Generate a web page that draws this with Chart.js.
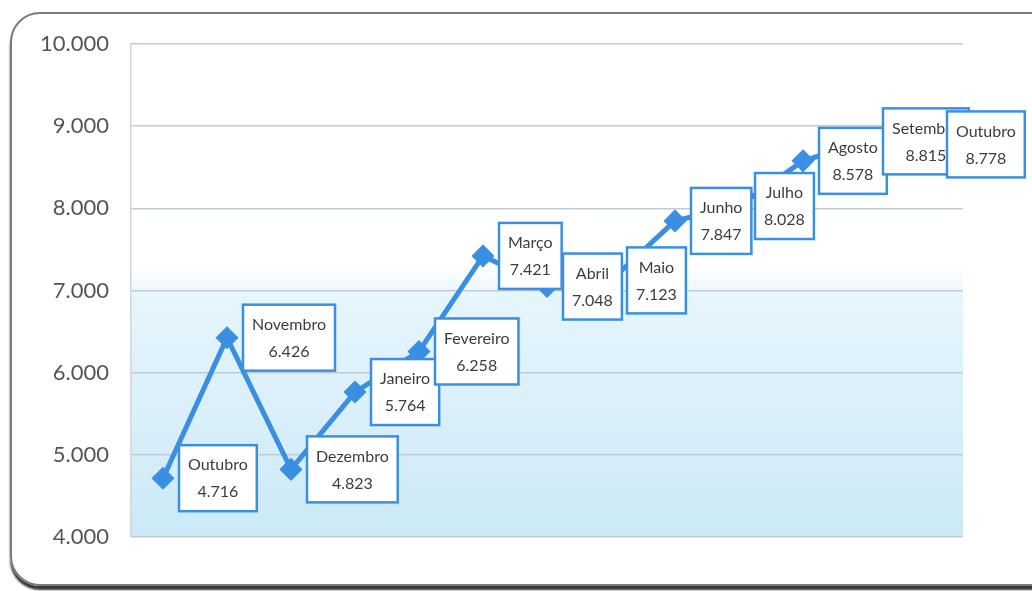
<!DOCTYPE html>
<html>
<head>
<meta charset="utf-8">
<script src="https://cdn.jsdelivr.net/npm/chart.js@4/dist/chart.umd.min.js"></script>
<style>
  html, body { margin: 0; padding: 0; background: #fff; overflow: hidden; }
  #wrap { position: relative; width: 1032px; height: 591px; }
  #frame {
    position: absolute; left: 10px; top: 12px; width: 1060px; height: 570px;
    border: 2px solid #7a7a7a; border-radius: 30px;
    box-shadow: 0 4px 2px #3a3a3a;
  }
  canvas { position: absolute; left: 0; top: 0; }
</style>
</head>
<body>
<div id="wrap">
  <div id="frame"></div>
  <canvas id="chart" width="1032" height="591"></canvas>
</div>
<script>
// meses (out/2011 .. out/2012)
const months = ["Outubro", "Novembro", "Dezembro", "Janeiro", "Fevereiro", "Março", "Abril",
                "Maio", "Junho", "Julho", "Agosto", "Setembro", "Outubro"];
const values = [4716, 6426, 4823, 5764, 6258, 7421, 7048, 7123, 7847, 8028, 8578, 8815, 8778];
const yMin = 4000;
const yMax = 10000;
const yStep = 1000;

const blue = "#3b8fe2";

function fmt(n) {
  return String(n).replace(/\B(?=(\d{3})+(?!\d))/g, ".");
}

// light blue fill in the lower part of the plot, fading out at the top
const bgPlugin = {
  id: "bgFill",
  beforeDraw(chart) {
    const { ctx, chartArea: a, scales } = chart;
    const yTop = scales.y.getPixelForValue(7300);
    const g = ctx.createLinearGradient(0, yTop, 0, a.bottom);
    g.addColorStop(0, "rgba(226,244,252,0)");
    g.addColorStop(0.12, "rgba(226,244,252,0.9)");
    g.addColorStop(0.5, "#dbf0fa");
    g.addColorStop(1, "#cbe9f7");
    ctx.save();
    ctx.fillStyle = g;
    ctx.fillRect(a.left, yTop, a.right - a.left, a.bottom - yTop);
    ctx.restore();
  }
};

// boxed labels to the right of each point
const labelPlugin = {
  id: "boxLabels",
  afterDatasetsDraw(chart) {
    const ctx = chart.ctx;
    const meta = chart.getDatasetMeta(0);
    ctx.save();
    ctx.font = "16px Lato, 'Open Sans', sans-serif";
    ctx.textAlign = "center";
    ctx.textBaseline = "middle";
    meta.data.forEach((pt, i) => {
      const l1 = months[i];
      const l2 = fmt(values[i]);
      const w = Math.max(ctx.measureText(l1).width, ctx.measureText(l2).width) + 18;
      const h = 66;
      const x = pt.x + 16;
      const y = pt.y - h / 2;
      ctx.fillStyle = "#ffffff";
      ctx.fillRect(x, y, w, h);
      ctx.strokeStyle = blue;
      ctx.lineWidth = 2.5;
      ctx.strokeRect(x, y, w, h);
      ctx.fillStyle = "#3d3d3d";
      ctx.fillText(l1, x + w / 2, y + 20);
      ctx.fillText(l2, x + w / 2, y + 47);
    });
    ctx.restore();
  }
};

new Chart(document.getElementById("chart"), {
  type: "line",
  data: {
    labels: months,
    datasets: [{
      data: values,
      borderColor: blue,
      backgroundColor: blue,
      borderWidth: 5,
      tension: 0,
      pointStyle: "rectRot",
      pointRadius: 8,
      pointBackgroundColor: blue,
      pointBorderColor: blue
    }]
  },
  options: {
    responsive: false,
    animation: false,
    layout: { padding: { left: 0, top: 44, right: 69, bottom: 54 } },
    plugins: { legend: { display: false }, tooltip: { enabled: false } },
    scales: {
      x: { display: false, offset: true },
      y: {
        min: yMin,
        max: yMax,
        ticks: {
          stepSize: yStep,
          padding: 22,
          color: "#555",
          font: { size: 22, family: "Lato, 'Open Sans', sans-serif" },
          callback: v => fmt(v)
        },
        grid: { color: "#bfcbd6", lineWidth: 1.5, drawTicks: false },
        border: { color: "#d0d6dc", width: 1.5 },
        afterFit(s) { s.width = 131; }
      }
    }
  },
  plugins: [bgPlugin, labelPlugin]
});
</script>
</body>
</html>
